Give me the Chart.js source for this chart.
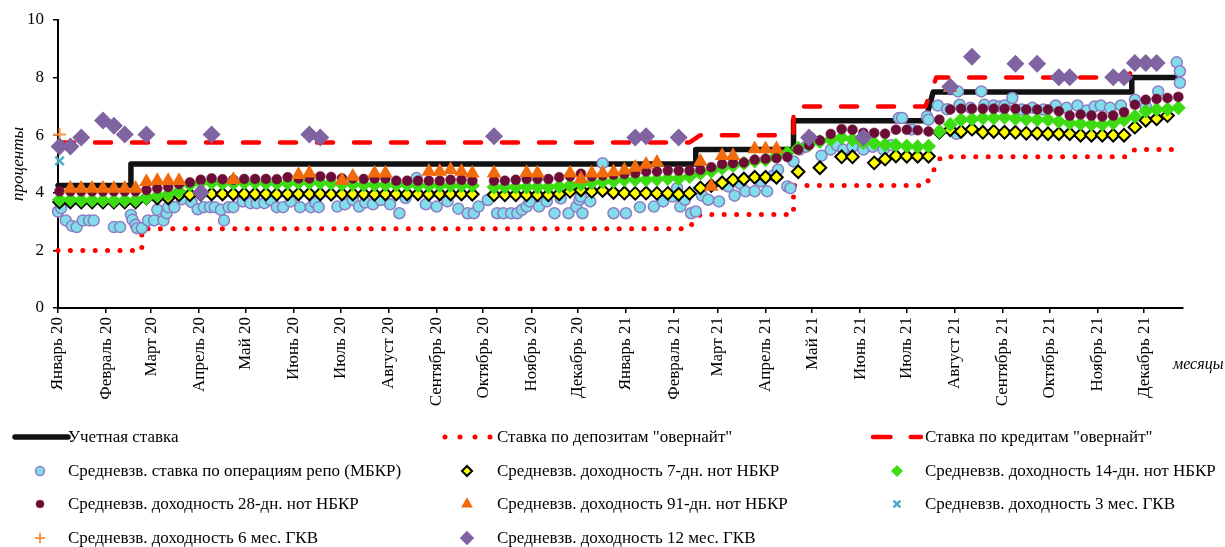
<!DOCTYPE html>
<html lang="ru">
<head>
<meta charset="utf-8">
<title>Ставки денежного рынка</title>
<script src="https://cdn.jsdelivr.net/npm/chart.js@4.4.1/dist/chart.umd.min.js"></script>
<style>
  html, body { margin: 0; padding: 0; background: #fff; }
  #wrap { position: relative; width: 1225px; height: 547px; overflow: hidden; font-family: "Liberation Serif", "Times New Roman", serif; color: #000; }
  #grafico { position: absolute; left: 0; top: 0; }
  #legenda-canvas { position: absolute; left: 0; top: 420px; }
  .leg-text { position: absolute; font-size: 17px; line-height: 20px; white-space: nowrap; }
  #x-title { position: absolute; left: 1173px; top: 355px; font-style: italic; font-size: 16px; white-space: nowrap; }
</style>
</head>
<body>
<div id="wrap">
  <canvas id="grafico" width="1225" height="420"></canvas>
  <canvas id="legenda-canvas" width="1225" height="127"></canvas>
  <div id="legenda-itens"></div>
  <div id="x-title">месяцы</div>
</div>
<script>
// === Axis labels ===
const monthLabels = ['Январь 20', 'Февраль 20', 'Март 20', 'Апрель 20', 'Май 20', 'Июнь 20', 'Июль 20', 'Август 20',
  'Сентябрь 20', 'Октябрь 20', 'Ноябрь 20', 'Декабрь 20', 'Январь 21', 'Февраль 21', 'Март 21', 'Апрель 21',
  'Май 21', 'Июнь 21', 'Июль 21', 'Август 21', 'Сентябрь 21', 'Октябрь 21', 'Ноябрь 21', 'Декабрь 21'];
// day number (from 1 Jan 2020) of the first day of each month
const monthStartDays = [0, 31, 60, 91, 121, 152, 182, 213, 244, 274, 305, 335, 366, 397, 425, 456, 486, 517, 547, 578, 609, 639, 670, 700];
const yTicks = [0, 2, 4, 6, 8, 10];

// === Policy rates (day, %) ===
const discountDays  = [0, 47, 47, 411, 411, 474, 474, 559, 564, 692, 692, 721];
const discountRates = [4.25, 4.25, 5.0, 5.0, 5.5, 5.5, 6.5, 6.5, 7.5, 7.5, 8.0, 8.0];
const depositDays   = [0, 54, 54, 406, 414, 474, 474, 559, 569, 689, 694, 718];
const depositRates  = [2.0, 2.0, 2.75, 2.75, 3.25, 3.25, 4.25, 4.25, 5.25, 5.25, 5.5, 5.5];
const creditDays    = [0, 407, 414, 474, 474, 559, 566, 690, 693, 720];
const creditRates   = [5.75, 5.75, 6.0, 6.0, 7.0, 7.0, 8.0, 8.0, 8.5, 8.5];

// === Repo (МБКР), irregular dates ===
const repoDays = [0, 2, 5, 9, 12, 16, 20, 23, 36, 40, 47, 48, 50, 51, 54, 58, 62, 64, 68, 70, 71, 75, 80, 86, 90, 94, 98, 101,
  105, 107, 110, 113, 119, 124, 128, 133, 137, 141, 145, 150, 156, 163, 166, 168, 180, 185, 190, 194, 198, 203, 208, 214,
  220, 224, 231, 237, 244, 251, 258, 264, 268, 271, 277, 283, 287, 292, 296, 299, 302, 304, 310, 315, 320, 324, 329, 334,
  336, 337, 338, 343, 351, 358,
  366, 375, 384, 390, 396, 399, 401, 404, 408, 411, 415, 419, 426, 432, 436, 440, 443, 449, 453, 457, 461, 464, 470, 472,
  474, 478, 482, 485, 492, 498, 502, 506, 512, 519, 525, 532, 537, 542, 544, 550, 560, 561, 567, 573, 579, 580, 581, 588,
  595, 597, 603, 607, 610, 615, 621, 628, 635, 643, 650, 657, 663, 668, 672, 678, 685, 694, 701, 709, 721, 723, 723];
const repoRates = [3.35, 3.47, 3.04, 2.85, 2.81, 3.04, 3.04, 3.04, 2.81, 2.81, 3.23, 3.06, 2.89, 2.77, 2.77, 3.04, 3.04, 3.41,
  3.04, 3.29, 3.5, 3.5, 3.78, 3.68, 3.43, 3.5, 3.5, 3.5, 3.41, 3.04, 3.5, 3.5, 3.7, 3.64, 3.64, 3.64, 3.75, 3.5, 3.5, 3.7,
  3.5, 3.5, 3.64, 3.5, 3.52, 3.6, 3.75, 3.52, 3.66, 3.6, 3.75, 3.6, 3.29, 3.82, 4.51, 3.6, 3.52, 3.7, 3.45, 3.29, 3.29, 3.52,
  3.75, 3.29, 3.29, 3.29, 3.29, 3.41, 3.52, 3.7, 3.52, 3.7, 3.29, 3.8, 3.29, 3.52, 3.76, 3.87, 3.29, 3.7, 5.03, 3.29,
  3.29, 3.5, 3.52, 3.7, 3.87, 4.16, 3.52, 3.76, 3.29, 3.35, 3.9, 3.76, 3.7, 4.22, 3.9, 4.3, 4.05, 4.05, 4.4, 4.05, 4.6, 4.8,
  4.22, 4.16, 5.09, 5.5, 5.6, 5.9, 5.29, 5.5, 5.65, 5.5, 5.6, 5.5, 5.6, 5.5, 5.65, 6.6, 6.6, 6.2, 6.65, 6.54, 7.03, 6.9,
  6.05, 7.52, 7.06, 6.95, 7.52, 7.06, 7.03, 7.0, 7.03, 7.29, 6.89, 6.95, 6.89, 7.03, 6.95, 7.03, 6.86, 7.0, 7.03, 6.95,
  7.03, 7.23, 7.0, 7.52, 8.53, 8.22, 7.82];

// === Weekly auctions (one value per week, week 0 = first week of Jan 2020) ===
const firstWeekDay = 1;
const weekLength = 7;
const notes7 = [3.68, 3.68, 3.68, 3.68, 3.68, 3.68, 3.68, 3.68, 3.82, 3.82, 3.82, 3.93, 3.93, 3.95, 3.96, 3.96, 3.96, 3.96,
  3.96, 3.96, 3.95, 3.96, 3.96, 3.96, 3.96, 3.95, 3.96, 3.96, 3.96, 3.95, 3.96, 3.96, 3.96, 3.96, 3.95, 3.96, 3.96, 3.96,
  3.95, null, 3.93, 3.93, 3.93, 3.93, 3.93, 3.93, 3.96, 4.05, 4.1, 4.05, 4.08, 4.01, 3.99, 3.98, 3.99, 3.98, 3.98, 3.95,
  3.98, 4.17, 4.25, 4.35, 4.45, 4.48, 4.54, 4.54, 4.54, null, 4.73, null, 4.87, null, 5.25, 5.25, null, 5.04, 5.17, 5.28,
  5.27, 5.27, 5.27, 6.1, 6.19, 6.13, 6.21, 6.1, 6.13, 6.1, 6.1, 6.07, 6.07, 6.05, 6.05, 6.05, 6.0, 6.0, 6.0, 6.0, 6.0,
  6.28, 6.52, 6.57, 6.68, null];
const notes14 = [3.76, 3.76, 3.74, 3.74, 3.74, 3.72, 3.74, 3.74, 3.82, 3.9, 3.95, 4.05, 4.28, 4.35, 4.35, 4.33, 4.33, 4.35,
  4.35, 4.33, 4.33, 4.33, 4.35, 4.35, 4.35, 4.33, 4.3, 4.3, 4.28, 4.28, 4.28, 4.28, 4.28, 4.25, 4.25, 4.25, 4.25, 4.25,
  4.25, null, 4.2, 4.2, 4.2, 4.2, 4.2, 4.2, 4.22, 4.25, 4.3, 4.35, 4.38, 4.4, 4.45, 4.45, 4.45, 4.47, 4.5, 4.5, 4.57, 4.68,
  4.75, 4.86, 4.95, 5.03, 5.1, 5.15, 5.28, 5.38, 5.55, 5.68, 5.78, 5.85, 5.92, 5.85, 5.75, 5.72, 5.67, 5.65, 5.62, 5.6,
  5.62, 6.13, 6.37, 6.54, 6.55, 6.6, 6.6, 6.62, 6.58, 6.55, 6.54, 6.54, 6.48, 6.42, 6.4, 6.37, 6.37, 6.42, 6.54, 6.65,
  6.83, 6.89, 6.9, 6.95];
const notes28 = [4.05, 4.05, 4.05, 4.05, 4.05, 4.05, 4.05, 4.05, 4.1, 4.15, 4.2, 4.3, 4.36, 4.45, 4.5, 4.47, 4.45, 4.48,
  4.48, 4.48, 4.47, 4.54, 4.5, 4.5, 4.57, 4.55, 4.5, 4.5, 4.48, 4.5, 4.5, 4.42, 4.42, 4.42, 4.42, 4.42, 4.45, 4.45, 4.42,
  null, 4.42, 4.42, 4.45, 4.48, 4.48, 4.48, 4.54, 4.57, 4.66, 4.57, 4.6, 4.63, 4.65, 4.68, 4.74, 4.74, 4.77, 4.77, 4.77,
  4.8, 4.89, 5.0, 5.03, 5.05, 5.15, 5.18, 5.2, 5.24, 5.5, 5.65, 5.82, 6.04, 6.21, 6.19, 6.08, 6.08, 6.05, 6.19, 6.19, 6.17,
  6.13, 6.54, 6.89, 6.92, 6.92, 6.92, 6.92, 6.92, 6.92, 6.89, 6.89, 6.89, 6.83, 6.68, 6.72, 6.68, 6.65, 6.68, 6.8, 7.06,
  7.23, 7.26, 7.29, 7.33];
const notes91 = [null, 4.15, 4.15, 4.15, 4.15, 4.15, 4.15, 4.15, 4.38, 4.42, 4.42, 4.42, null, null, null, null, 4.45, null,
  null, null, null, null, 4.63, 4.68, null, null, 4.43, 4.57, null, 4.68, 4.68, null, null, null, 4.74, 4.74, 4.8, 4.74,
  4.68, null, 4.68, null, null, 4.7, 4.68, null, null, 4.68, 4.48, 4.68, 4.68, 4.72, 4.78, 4.88, 4.98, 5.05, null, null,
  null, 5.09, 4.22, 5.29, 5.29, null, 5.52, 5.52, 5.52, null, null, null, null, null, null, null, null, null, null, null,
  null, null, null, null, 7.65];
const bonds3m = [5.11];
const bonds6m = [6.02];
const bonds12m = [5.61, 5.61, 5.92, null, 6.51, 6.33, 6.02, null, 6.02, null, null, null, null, 4.01, 6.02, null, null,
  null, null, null, null, null, null, 6.02, 5.92, null, null, null, null, null, null, null, null, null, null, null, null,
  null, null, null, 5.96, null, null, null, null, null, null, null, null, null, null, null, null, 5.92, 5.96, null, null,
  5.92, null, null, null, null, null, null, null, null, null, null, null, 5.92, null, null, null, null, 5.92, null, null,
  null, null, null, null, null, 7.68, null, 8.72, null, null, null, 8.48, null, 8.48, null, 8.01, 8.01, null, null, null,
  8.01, 8.01, 8.51, 8.51, 8.51];

// === Helpers ===
const FONTE = '"Liberation Serif", "Times New Roman", serif';

function pares(dias, valores) {
  return dias.map((d, i) => ({ x: d, y: valores[i] }));
}

function semanal(valores) {
  const pts = [];
  valores.forEach((v, i) => {
    if (v !== null) pts.push({ x: firstWeekDay + i * weekLength, y: v });
  });
  return pts;
}

function linha(label, data, cor, largura, tracejado, legendaX, legendaDash) {
  return {
    label, data, type: 'line', showLine: true,
    borderColor: cor, borderWidth: largura, borderDash: tracejado,
    borderCapStyle: 'round', borderJoinStyle: 'round',
    pointRadius: 0, tension: 0, clip: false, fill: false,
    legendaTipo: 'linha', legendaX, legendaDash
  };
}

function pontos(label, data, estilo, raio, fundo, borda, larguraBorda) {
  return {
    label, data, type: 'line', showLine: false, clip: false,
    pointStyle: estilo, pointRadius: raio, pointHoverRadius: raio,
    pointBackgroundColor: fundo, pointBorderColor: borda, pointBorderWidth: larguraBorda,
    backgroundColor: fundo, borderColor: borda, borderWidth: larguraBorda,
    legendaTipo: 'ponto'
  };
}

const datasets = [
  linha('Учетная ставка', pares(discountDays, discountRates), '#111111', 5.5, [], [15, 68], []),
  linha('Ставка по депозитам "овернайт"', pares(depositDays, depositRates), '#ff0000', 5, [0, 12.4], [445, 491], [0, 15]),
  linha('Ставка по кредитам "овернайт"', pares(creditDays, creditRates), '#ff0000', 4.5, [16, 21], [873, 921], [17.5, 20.25]),
  pontos('Средневзв. ставка по операциям репо (МБКР)', pares(repoDays, repoRates), 'circle', 5.5, '#7fdeea', '#8e7cc3', 1.5),
  pontos('Средневзв. доходность 7-дн. нот НБКР', semanal(notes7), 'rectRot', 6.3, '#ffff00', '#000000', 2),
  pontos('Средневзв. доходность 14-дн. нот НБКР', semanal(notes14), 'rectRot', 7.5, '#3ddc12', '#3ddc12', 0),
  pontos('Средневзв. доходность 28-дн. нот НБКР', semanal(notes28), 'circle', 5, '#6b0d37', '#7a2448', 0.5),
  pontos('Средневзв. доходность 91-дн. нот НБКР', semanal(notes91), 'triangle', 8.5, '#f26b0a', '#f26b0a', 0),
  pontos('Средневзв. доходность 3 мес. ГКВ', semanal(bonds3m), 'crossRot', 6, '#4bacc6', '#4bacc6', 2.5),
  pontos('Средневзв. доходность 6 мес. ГКВ', semanal(bonds6m), 'cross', 6.5, '#f79646', '#f79646', 2),
  pontos('Средневзв. доходность 12 мес. ГКВ', semanal(bonds12m), 'rectRot', 9, '#8064a2', '#8064a2', 0)
];
// later series are drawn on top, like the original
datasets.forEach((ds, i) => { ds.order = datasets.length - i; });

// === Chart ===
const PLOT_LEFT = 58, PLOT_BOTTOM = 308, CANVAS_H = 420;

const grafico = new Chart(document.getElementById('grafico'), {
  type: 'line',
  data: { datasets },
  options: {
    responsive: false,
    animation: false,
    events: [],
    layout: { padding: { left: 0, top: 20, right: 42, bottom: 0 } },
    plugins: { legend: { display: false }, tooltip: { enabled: false } },
    scales: {
      x: {
        type: 'linear', min: 0, max: 725,
        afterBuildTicks: s => { s.ticks = monthStartDays.map(v => ({ value: v })); },
        afterFit: s => { s.height = CANVAS_H - PLOT_BOTTOM; },
        ticks: {
          autoSkip: false, minRotation: 90, maxRotation: 90, padding: 4, color: '#000',
          font: { family: FONTE, size: 17 },
          callback: (v, i) => monthLabels[i]
        },
        grid: { drawOnChartArea: false, drawTicks: true, tickLength: 5, color: '#000', lineWidth: 1.5 },
        border: { display: true, color: '#000', width: 2 }
      },
      y: {
        min: 0, max: 10,
        afterBuildTicks: s => { s.ticks = yTicks.map(v => ({ value: v })); },
        afterFit: s => { s.width = PLOT_LEFT; },
        ticks: { padding: 9, color: '#000', font: { family: FONTE, size: 17 } },
        grid: { drawOnChartArea: false, drawTicks: true, tickLength: 5, color: '#000', lineWidth: 1.5 },
        border: { display: true, color: '#000', width: 2 },
        title: {
          display: true, text: 'проценты', color: '#000',
          font: { family: FONTE, size: 17, style: 'italic' },
          padding: { top: 8, bottom: 0 }
        }
      }
    }
  }
});

// === Legend (3 columns, like the original) ===
function gerarLegenda() {
  const canvas = document.getElementById('legenda-canvas');
  const ctx = canvas.getContext('2d');
  const itens = document.getElementById('legenda-itens');
  const linhasY = [17, 51, 84, 118];
  const marcadorX = [40, 467, 897];
  const textoX = [68, 497, 925];

  datasets.forEach((ds, k) => {
    const row = Math.floor(k / 3), col = k % 3;
    const y = linhasY[row];

    ctx.save();
    if (ds.legendaTipo === 'linha') {
      ctx.strokeStyle = ds.borderColor;
      ctx.lineWidth = ds.borderWidth;
      ctx.lineCap = 'round';
      ctx.setLineDash(ds.legendaDash);
      ctx.beginPath();
      ctx.moveTo(ds.legendaX[0], y);
      ctx.lineTo(ds.legendaX[1], y);
      ctx.stroke();
    } else {
      ctx.fillStyle = ds.pointBackgroundColor;
      ctx.strokeStyle = ds.pointBorderColor;
      ctx.lineWidth = ds.pointBorderWidth;
      Chart.helpers.drawPoint(ctx, {
        pointStyle: ds.pointStyle, radius: ds.pointRadius * 0.8, rotation: 0, borderWidth: ds.pointBorderWidth
      }, marcadorX[col], y);
    }
    ctx.restore();

    const span = document.createElement('div');
    span.className = 'leg-text';
    span.style.left = textoX[col] + 'px';
    span.style.top = (420 + y - 10) + 'px';
    span.textContent = ds.label;
    itens.appendChild(span);
  });
}

gerarLegenda();
</script>
</body>
</html>
